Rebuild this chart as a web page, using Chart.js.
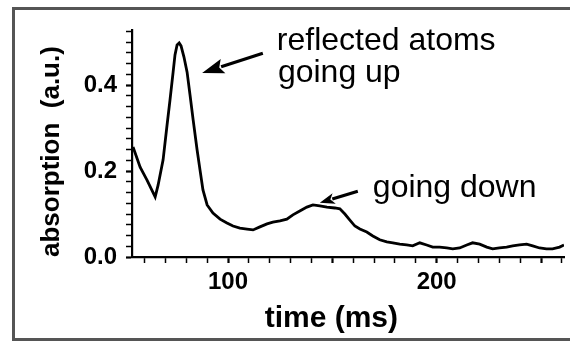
<!DOCTYPE html>
<html>
<head>
<meta charset="utf-8">
<script src="https://cdn.jsdelivr.net/npm/chart.js@4/dist/chart.umd.min.js"></script>
<style>
  html, body { margin: 0; padding: 0; background: #fff; }
  #wrap { width: 570px; height: 341px; position: relative; }
</style>
</head>
<body>
<div id="wrap"><canvas id="c" width="570" height="341"></canvas></div>
<script>
// ---- data ----
const timeMs = [54.5,57.9,61.2,65.1,66.5,68.9,70.8,72.2,73.7,74.6,75.6,76.6,77.5,78.9,80.4,81.8,83.3,85.2,86.6,88.0,
  90.0,92.8,96.2,99.5,102.4,105.7,109.1,112.0,115.3,118.7,121.5,124.9,128.2,131.1,134.4,137.8,140.7,144.0,147.4,151.2,
  153.6,156.0,158.4,160.8,163.2,166.5,169.4,172.7,176.1,179.0,182.3,185.6,188.5,191.9,195.2,198.1,201.4,204.8,207.7,211.0,
  214.4,217.2,220.6,224.0,226.8,230.1,233.5,236.4,239.7,243.1,246.0,249.3,252.6,255.5,258.9,261.0];
const absorption = [0.256,0.209,0.179,0.140,0.167,0.226,0.307,0.365,0.430,0.470,0.493,0.498,0.491,0.465,0.430,0.377,0.319,0.249,0.202,0.156,
  0.121,0.102,0.088,0.079,0.072,0.067,0.065,0.063,0.070,0.077,0.081,0.084,0.088,0.098,0.107,0.116,0.121,0.119,0.116,0.114,
  0.112,0.100,0.086,0.072,0.065,0.058,0.049,0.040,0.035,0.033,0.030,0.028,0.026,0.033,0.028,0.023,0.023,0.021,0.019,0.021,
  0.028,0.033,0.030,0.023,0.019,0.021,0.023,0.026,0.028,0.030,0.026,0.021,0.019,0.019,0.023,0.028];

const xTickValues = [100, 200];
const xTickLabels = ['100', '200'];
const xMajorValues = [100, 150, 200, 250];
const xMinorStep = 10;
const yTickValues = [0, 0.2, 0.4];
const yTickLabels = ['0.0', '0.2', '0.4'];
const yMinorStep = 0.025;
const xRange = [54, 261];
const yRange = [0, 0.528];

const annotationTexts = ['reflected atoms', 'going up', 'going down'];
const annotationAt = [[123.4, 0.481], [123.9, 0.407], [169.4, 0.140]];
const arrowTails = [[116.7, 0.474], [162.2, 0.153]];
const arrowTips  = [[87.6, 0.428], [144.0, 0.126]];

// ---- helpers ----
function near(a, b) { return Math.abs(a - b) < 1e-6; }
function buildTicks(min, max, step) {
  const out = [];
  const start = Math.ceil(min / step - 1e-9);
  for (let i = start; i * step <= max + 1e-9; i++) out.push(+(i * step).toFixed(4));
  return out;
}
function labelFor(values, labels, v) {
  for (let i = 0; i < values.length; i++) if (near(values[i], v)) return labels[i];
  return '';
}
function isMajor(values, v) { return values.some(m => near(m, v)); }

const points = timeMs.map((t, i) => ({ x: t, y: absorption[i] }));
const FAMILY = "'Liberation Sans', Arial, Helvetica, sans-serif";

const decorPlugin = {
  id: 'decor',
  afterDraw(chart) {
    const { ctx, scales: { x, y } } = chart;
    ctx.save();
    // outer frame
    ctx.strokeStyle = '#555';
    ctx.lineWidth = 3;
    ctx.strokeRect(13.5, 8.5, 600, 331);
    // arrows
    ctx.strokeStyle = '#000';
    ctx.fillStyle = '#000';
    const heads = [[22, 7.5], [15, 5.5]];
    arrowTails.forEach((tail, i) => {
      const x0 = x.getPixelForValue(tail[0]), y0 = y.getPixelForValue(tail[1]);
      const x1 = x.getPixelForValue(arrowTips[i][0]), y1 = y.getPixelForValue(arrowTips[i][1]);
      const dx = x1 - x0, dy = y1 - y0, L = Math.hypot(dx, dy);
      const ux = dx / L, uy = dy / L;
      const [hl, hw] = heads[i];
      const bx = x1 - ux * hl, by = y1 - uy * hl;
      ctx.lineWidth = 3.2;
      ctx.beginPath();
      ctx.moveTo(x0, y0);
      ctx.lineTo(bx + ux * 2, by + uy * 2);
      ctx.stroke();
      ctx.beginPath();
      ctx.moveTo(x1, y1);
      ctx.lineTo(bx - uy * hw, by + ux * hw);
      ctx.lineTo(bx + ux * 4, by + uy * 4);
      ctx.lineTo(bx + uy * hw, by - ux * hw);
      ctx.closePath();
      ctx.fill();
    });
    // texts
    ctx.font = '32px ' + FAMILY;
    ctx.textAlign = 'left';
    ctx.textBaseline = 'alphabetic';
    annotationTexts.forEach((t, i) => {
      ctx.fillText(t, x.getPixelForValue(annotationAt[i][0]), y.getPixelForValue(annotationAt[i][1]));
    });
    ctx.restore();
  }
};

new Chart(document.getElementById('c'), {
  type: 'line',
  data: {
    datasets: [{
      data: points,
      borderColor: '#000',
      borderWidth: 2.8,
      pointRadius: 0,
      tension: 0,
      fill: false
    }]
  },
  options: {
    responsive: false,
    animation: false,
    events: [],
    layout: { padding: { left: 0, top: 30, right: 6, bottom: 0 } },
    plugins: { legend: { display: false }, tooltip: { enabled: false }, title: { display: false } },
    scales: {
      x: {
        type: 'linear',
        min: xRange[0], max: xRange[1],
        afterBuildTicks: (axis) => { axis.ticks = buildTicks(xRange[0], xRange[1], xMinorStep).map(v => ({ value: v })); },
        afterFit: (s) => { s.height = 84; },
        border: { display: true, color: '#000', width: 2.2 },
        grid: {
          drawOnChartArea: false, drawTicks: true, tickLength: 6,
          tickColor: '#000',
          tickWidth: (c) => isMajor(xMajorValues, c.tick.value) ? 2.2 : 1.5
        },
        ticks: {
          autoSkip: false, maxRotation: 0, padding: 5, color: '#000',
          font: { family: FAMILY, size: 24, weight: 'bold' },
          callback: (v) => labelFor(xTickValues, xTickLabels, v)
        },
        title: {
          display: true, text: 'time (ms)    ', color: '#000',
          font: { family: FAMILY, size: 30, weight: 'bold' },
          padding: { top: 0, bottom: 4 }
        }
      },
      y: {
        type: 'linear',
        min: yRange[0], max: yRange[1],
        afterBuildTicks: (axis) => { axis.ticks = buildTicks(yRange[0], yRange[1], yMinorStep).map(v => ({ value: v })); },
        afterFit: (s) => { s.width = 132; },
        border: { display: true, color: '#000', width: 2.2 },
        grid: {
          drawOnChartArea: false, drawTicks: true, tickLength: 6,
          tickColor: '#000',
          tickWidth: (c) => isMajor(yTickValues, c.tick.value) ? 2.2 : 1.5
        },
        ticks: {
          autoSkip: false, padding: 9, color: '#000',
          font: { family: FAMILY, size: 24, weight: 'bold' },
          callback: (v) => labelFor(yTickValues, yTickLabels, v)
        },
        title: {
          display: true, text: 'absorption  (a.u.)', color: '#000', align: 'start',
          font: { family: FAMILY, size: 26, weight: 'bold' },
          padding: { top: 36, bottom: 0 }
        }
      }
    }
  },
  plugins: [decorPlugin]
});
</script>
</body>
</html>
